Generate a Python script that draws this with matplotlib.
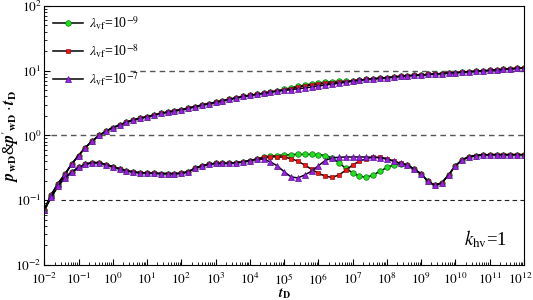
import numpy as np
import matplotlib
matplotlib.use('Agg')
import matplotlib.pyplot as plt
from matplotlib.ticker import LogLocator, NullFormatter, FuncFormatter
from matplotlib.transforms import ScaledTranslation

plt.rcParams['font.family'] = ['Liberation Serif', 'DejaVu Serif']
plt.rcParams['mathtext.fontset'] = 'stix'

# exponent of t_D for every marker (0.2 decade steps)
log_t = np.round(np.arange(-2.0, 12.01, 0.2), 1)

# pressure p_wD : shared start, differing middle (t 1e5..1e6.8), shared end
p_head = [0.071, 0.12, 0.18, 0.25, 0.36, 0.49, 0.65, 0.82, 1.0, 1.16,
          1.32, 1.45, 1.6, 1.74, 1.84, 1.95, 2.07, 2.19, 2.3, 2.4,
          2.5, 2.64, 2.78, 2.95, 3.1, 3.25, 3.44, 3.62, 3.8, 4.0,
          4.17, 4.33, 4.48, 4.68, 4.88]
p_mid_9 = [5.15, 5.45, 5.75, 6.0, 6.25, 6.45, 6.65, 6.8, 6.85, 6.9]
p_mid_8 = [5.05, 5.3, 5.6, 5.85, 6.05, 6.2, 6.35, 6.5, 6.6, 6.75]
p_mid_7 = [4.95, 5.1, 5.25, 5.4, 5.6, 5.8, 6.0, 6.2, 6.4, 6.6]
p_tail = [6.95, 7.15, 7.35, 7.5, 7.65, 7.8, 8.0, 8.2, 8.35, 8.5,
          8.6, 8.75, 8.9, 9.05, 9.2, 9.35, 9.5, 9.65, 9.8, 9.95,
          10.1, 10.3, 10.5, 10.7, 10.9, 11.1]

# derivative p'_wD * t_D
d_head = [0.071, 0.11, 0.166, 0.22, 0.27, 0.32, 0.36, 0.38, 0.38, 0.355,
          0.33, 0.305, 0.285, 0.272, 0.265, 0.262, 0.26, 0.258, 0.257, 0.257,
          0.26, 0.275, 0.31, 0.34, 0.36, 0.37, 0.37, 0.372, 0.38, 0.39,
          0.41, 0.43]
d_mid_9 = [0.46, 0.48, 0.49, 0.50, 0.505, 0.51, 0.51, 0.51, 0.505, 0.49,
           0.45, 0.38, 0.31, 0.265, 0.235, 0.225, 0.245, 0.28, 0.32, 0.35, 0.36]
d_mid_8 = [0.46, 0.47, 0.47, 0.46, 0.44, 0.40, 0.35, 0.30, 0.26, 0.235,
           0.225, 0.245, 0.29, 0.35, 0.40, 0.44, 0.46, 0.46, 0.44, 0.40, 0.37]
d_mid_7 = [0.43, 0.39, 0.34, 0.275, 0.23, 0.22, 0.245, 0.28, 0.34, 0.41,
           0.45, 0.46, 0.465, 0.465, 0.465, 0.465, 0.46, 0.45, 0.43, 0.40, 0.37]
d_tail = [0.35, 0.30, 0.255, 0.195, 0.17, 0.185, 0.245, 0.34, 0.42, 0.47,
          0.49, 0.50, 0.505, 0.505, 0.505, 0.505, 0.505, 0.505]

labels = [r'$\lambda_{\rm vf}$=10$^{-9}$', r'$\lambda_{\rm vf}$=10$^{-8}$', r'$\lambda_{\rm vf}$=10$^{-7}$']
p_mids = [p_mid_9, p_mid_8, p_mid_7]
d_mids = [d_mid_9, d_mid_8, d_mid_7]
face = ['#1fe01f', '#ff1010', '#9a20e8']
edge = ['#0a7a0a', '#901010', '#5a1090']
markers = ['o', 's', '^']
sizes = [4.0, 3.4, 4.4]

t = 10.0 ** log_t

fig = plt.figure(figsize=(5.33, 3.0), dpi=100)
ax = fig.add_axes([0.083, 0.117, 0.9, 0.863])

# reference levels
ax.hlines(10, 10 ** 0.5, 1e12, colors='#555555', linestyles=(0, (4, 3)), linewidth=1)
ax.hlines(1, 10 ** -1.8, 1e12, colors='#555555', linestyles=(0, (4, 3)), linewidth=1)
ax.hlines(0.1, 10 ** -1.5, 1e12, colors='#222222', linestyles=(0, (4, 3)), linewidth=0.8)

for i in range(3):
    p = np.array(p_head + p_mids[i] + p_tail)
    d = np.array(d_head + d_mids[i] + d_tail)
    kw = dict(color='black', linewidth=1.1, marker=markers[i], markersize=sizes[i],
              markerfacecolor=face[i], markeredgecolor=edge[i], markeredgewidth=0.5)
    ax.plot(t, p, label=labels[i], **kw)
    ax.plot(t, d, **kw)

ax.set_xscale('log')
ax.set_yscale('log')
ax.set_xlim(1e-2, 1e12)
ax.set_ylim(1e-2, 1e2)
ax.set_xticks([10.0 ** k for k in range(-2, 13)])
ax.xaxis.set_minor_locator(LogLocator(base=10, subs=np.arange(2, 10), numticks=100))
ax.xaxis.set_minor_formatter(NullFormatter())
pow_fmt = FuncFormatter(lambda v, pos: r'$10^{%d}$' % int(round(np.log10(v))))
ax.xaxis.set_major_formatter(pow_fmt)
ax.yaxis.set_major_formatter(pow_fmt)
ax.tick_params(which='both', direction='in', top=False, right=False, labelsize=9.5)
ax.tick_params(axis='x', which='major', length=4, pad=5)
ax.tick_params(axis='y', which='major', length=4, pad=2)
ax.tick_params(which='minor', length=2)

# keep the last x label inside the figure
fig.canvas.draw()
last = ax.get_xticklabels()[-1]
last.set_transform(last.get_transform() + ScaledTranslation(-3 / 72, 0, fig.dpi_scale_trans))

ax.set_xlabel(r'$\boldsymbol{t}_{\mathbf{D}}$', fontsize=10)
ax.xaxis.set_label_coords(0.5, -0.082)
ax.set_ylabel(r"$\boldsymbol{p}_{\mathbf{wD}}$&$\boldsymbol{p}'_{\mathbf{wD}}\cdot\boldsymbol{t}_{\mathbf{D}}$",
              fontsize=11.5)
ax.yaxis.set_label_coords(-0.049, 0.5)

ax.text(10 ** 10.25, 0.02, r'$k_{\rm hv}$=1', fontsize=13.5)

ax.legend(loc='upper left', frameon=False, fontsize=10, handlelength=2.2,
          handletextpad=0.4, borderaxespad=0.2, labelspacing=0.75)

fig.savefig('out.png', dpi=100)
